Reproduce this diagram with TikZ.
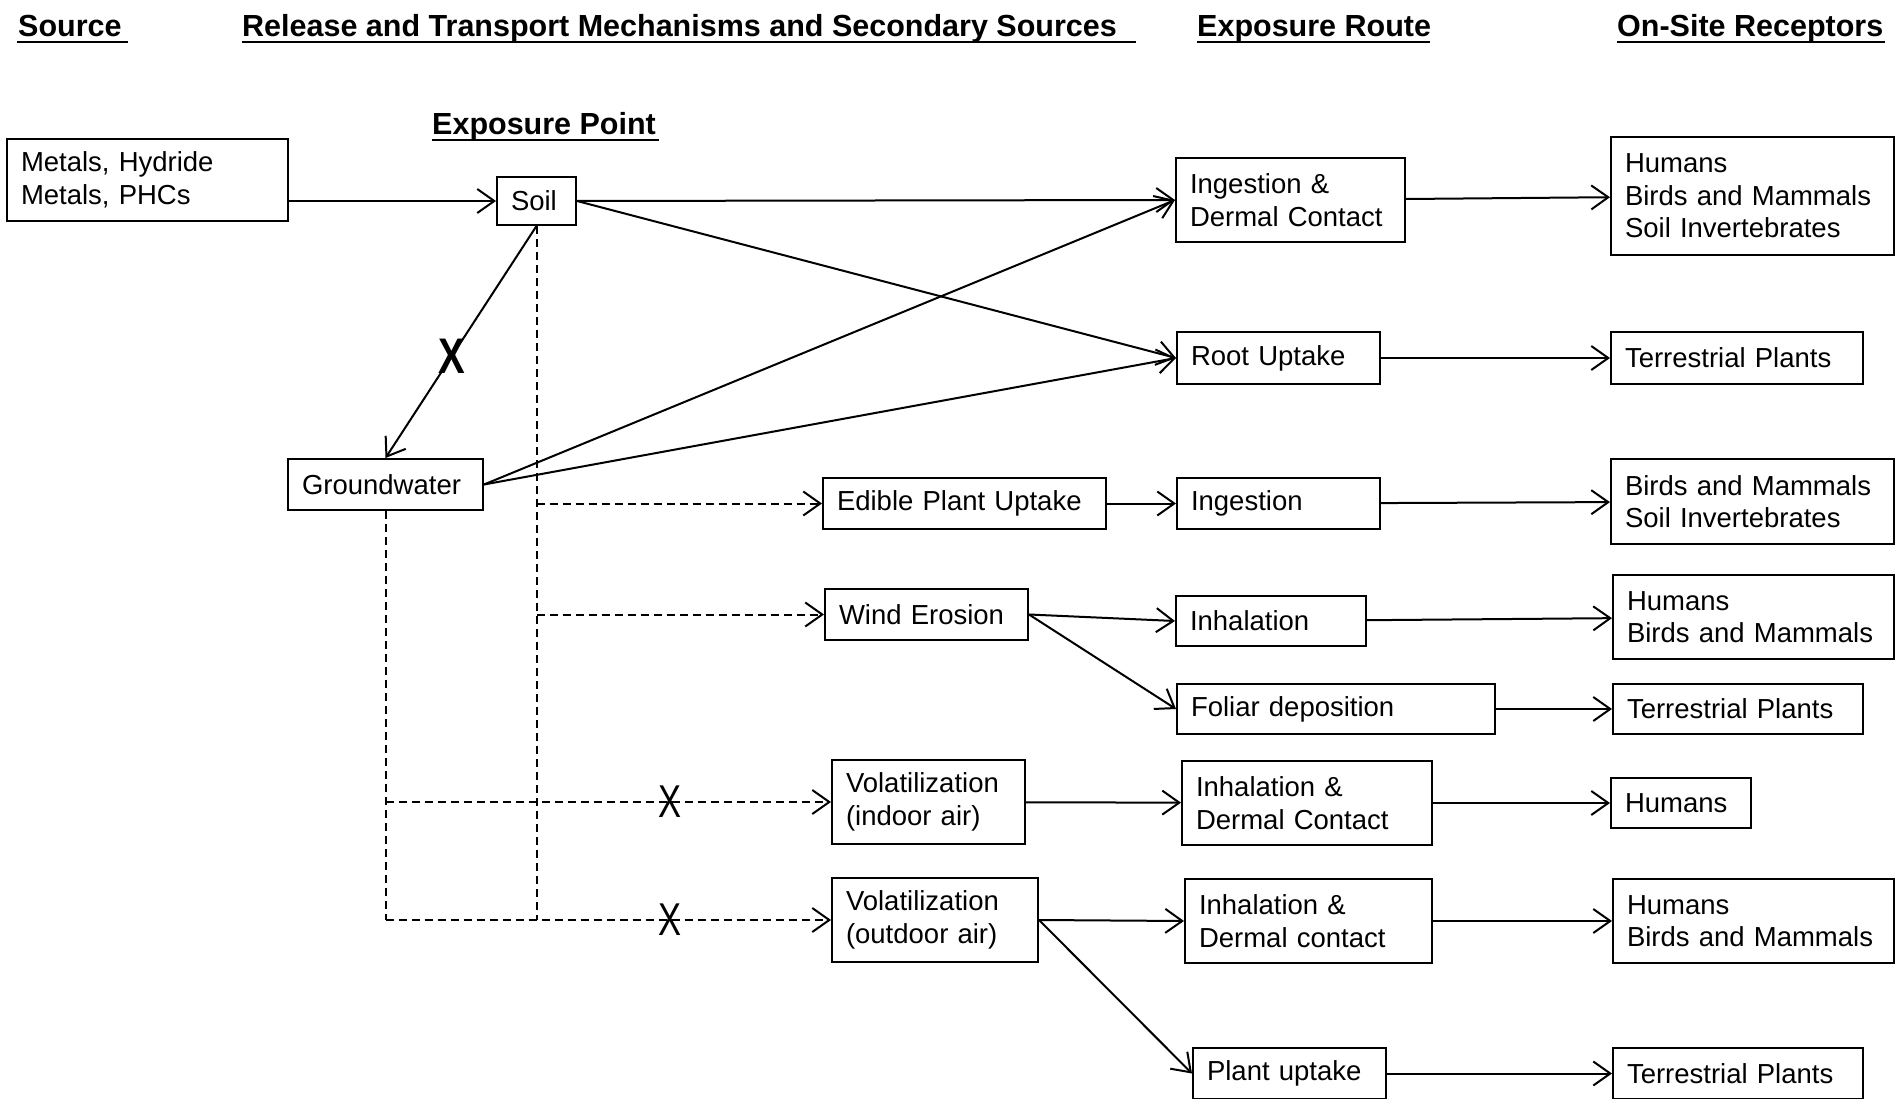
\documentclass[tikz,border=0pt]{standalone}
\usepackage{fontspec}
\setmainfont{Liberation Sans}
\usetikzlibrary{arrows.meta}
\begin{document}
\begin{tikzpicture}[x=1pt,y=-1pt,
  box/.style={draw, line width=2pt, anchor=north west, align=left, inner xsep=14pt, inner ysep=0pt, font=\fontsize{27.5}{32.6}\selectfont},
  arr/.style={line width=2pt, -{Straight Barb[length=17pt,width=24pt]}},
  dsh/.style={line width=2pt, dash pattern=on 8pt off 5pt},
  hdr/.style={anchor=base west, inner sep=0pt, font=\fontsize{30.5}{36}\selectfont\bfseries},
  uline/.style={line width=2.5pt},
  boldx/.style={inner sep=0pt, font=\fontsize{50}{50}\selectfont\bfseries},
  thinx/.style={inner sep=0pt, font=\fontsize{46}{46}\selectfont},
]
\fill[white] (0,0) rectangle (1895,1099);
\useasboundingbox (0,0) rectangle (1895,1099);

% headers
\node[hdr] (hsrc) at (18,37) {Source};
\node[hdr] (hrel) at (242,37) {Release and Transport Mechanisms and Secondary Sources};
\node[hdr] (hrte) at (1197,37) {Exposure Route};
\node[hdr] (hrec) at (1617,37) {On-Site Receptors};
\node[hdr] (hpt) at (432,135) {Exposure Point};
\draw[uline] (17,42) -- (128,42);
\draw[uline] (242,42) -- (1136,42);
\draw[uline] (1197,42) -- (1430,42);
\draw[uline] (1617,42) -- (1885,42);
\draw[uline] (432,140) -- (659,140);

% boxes
\node[box, minimum width=281pt, minimum height=82pt, text width=253pt] (metals) at (6,138) {Metals, Hydride\\Metals, PHCs};
\node[box, minimum width=79pt, minimum height=48pt, text width=51pt] (soil) at (496,176) {Soil};
\node[box, minimum width=195pt, minimum height=51pt, text width=167pt] (gw) at (287,458) {Groundwater};
\node[box, minimum width=229pt, minimum height=84pt, text width=201pt] (idc1) at (1175,157) {Ingestion \&\\Dermal Contact};
\node[box, minimum width=203pt, minimum height=52pt, text width=175pt] (root) at (1176,331) {Root Uptake};
\node[box, minimum width=283pt, minimum height=51pt, text width=255pt] (edible) at (822,477) {Edible Plant Uptake};
\node[box, minimum width=203pt, minimum height=51pt, text width=175pt] (ingest) at (1176,477) {Ingestion};
\node[box, minimum width=203pt, minimum height=51pt, text width=175pt] (wind) at (824,588) {Wind Erosion};
\node[box, minimum width=190pt, minimum height=50pt, text width=162pt] (inhal) at (1175,595) {Inhalation};
\node[box, minimum width=318pt, minimum height=50pt, text width=290pt] (foliar) at (1176,683) {Foliar deposition};
\node[box, minimum width=193pt, minimum height=84pt, text width=165pt] (volin) at (831,759) {Volatilization\\(indoor air)};
\node[box, minimum width=250pt, minimum height=84pt, text width=222pt] (idc2) at (1181,760) {Inhalation \&\\Dermal Contact};
\node[box, minimum width=206pt, minimum height=84pt, text width=178pt] (volout) at (831,877) {Volatilization\\(outdoor air)};
\node[box, minimum width=247pt, minimum height=84pt, text width=219pt] (idc3) at (1184,878) {Inhalation \&\\Dermal contact};
\node[box, minimum width=193pt, minimum height=51pt, text width=165pt] (plant) at (1192,1047) {Plant uptake};

\node[box, minimum width=283pt, minimum height=118pt, text width=255pt] (r1) at (1610,136) {Humans\\Birds and Mammals\\Soil Invertebrates};
\node[box, minimum width=252pt, minimum height=52pt, text width=224pt] (r2) at (1610,331) {Terrestrial Plants};
\node[box, minimum width=283pt, minimum height=85pt, text width=255pt] (r3) at (1610,458) {Birds and Mammals\\Soil Invertebrates};
\node[box, minimum width=281pt, minimum height=84pt, text width=253pt] (r4) at (1612,574) {Humans\\Birds and Mammals};
\node[box, minimum width=250pt, minimum height=50pt, text width=222pt] (r5) at (1612,683) {Terrestrial Plants};
\node[box, minimum width=140pt, minimum height=50pt, text width=112pt] (r6) at (1610,777) {Humans};
\node[box, minimum width=281pt, minimum height=84pt, text width=253pt] (r7) at (1612,878) {Humans\\Birds and Mammals};
\node[box, minimum width=250pt, minimum height=51pt, text width=222pt] (r8) at (1612,1047) {Terrestrial Plants};

% solid connectors
\draw[arr] (metals.east |- soil.west) -- (soil.west);
\draw[arr] (soil.east) -- (idc1.west);
\draw[arr] (soil.east) -- (root.west);
\draw[arr] (gw.east) -- (idc1.west);
\draw[arr] (gw.east) -- (root.west);
\draw[arr] (soil.south) -- node[boldx, pos=0.56] {\scalebox{0.8}[1]{X}} (gw.north);
\draw[arr] (edible) -- (ingest);
\draw[arr] (idc1) -- (r1);
\draw[arr] (root) -- (r2);
\draw[arr] (ingest) -- (r3);
\draw[arr] (wind.east) -- (inhal.west);
\draw[arr] (wind.east) -- (foliar.west);
\draw[arr] (inhal) -- (r4);
\draw[arr] (foliar) -- (r5);
\draw[arr] (volin) -- (idc2);
\draw[arr] (idc2) -- (r6);
\draw[arr] (volout.east) -- (idc3.west);
\draw[arr] (volout.east) -- (plant.west);
\draw[arr] (idc3) -- (r7);
\draw[arr] (plant) -- (r8);

% dashed connectors
\draw[dsh] (soil.south) -- (soil.south |- volout.west);
\draw[dsh, arr] (soil.south |- edible.west) -- (edible.west);
\draw[dsh, arr] (soil.south |- wind.west) -- (wind.west);
\draw[dsh] (gw.south) -- (gw.south |- volout.west);
\draw[dsh, arr] (gw.south |- volin.west) -- node[thinx, pos=0.639] {\scalebox{0.75}[1]{X}} (volin.west);
\draw[dsh, arr] (gw.south |- volout.west) -- node[thinx, pos=0.639] {\scalebox{0.75}[1]{X}} (volout.west);
\end{tikzpicture}
\end{document}
